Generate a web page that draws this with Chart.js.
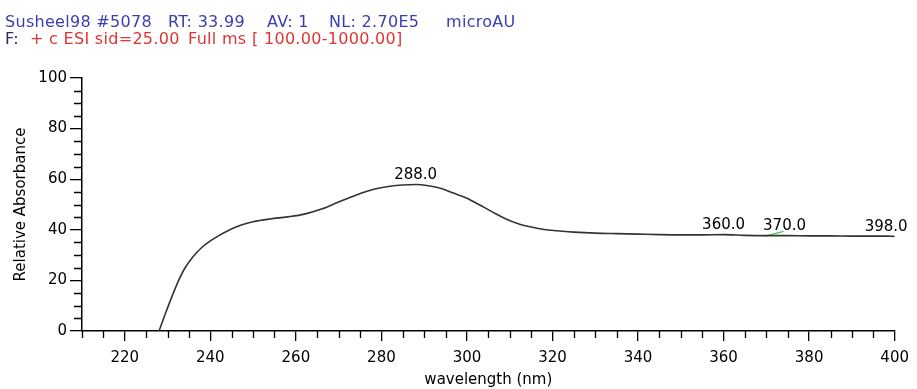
<!DOCTYPE html>
<html>
<head>
    <title>Relative Absorbance</title>
    <style>
        body, html {
            margin: 0;
            padding: 0;
            background: #fff;
        }
        #wrap {
            position: relative;
            width: 917px;
            height: 389px;
        }
        .hdr {
            position: absolute;
            font-family: "DejaVu Sans", sans-serif;
            font-size: 16px;
            line-height: 17px;
            letter-spacing: 0.3px;
            white-space: pre;
        }
        .l1 { top: 13px; color: #3c3cb4; }
        .l2 { top: 30px; color: #e03434; }
        .navy { color: #2a2a66; }
    </style>
</head>
<body>
<div id="wrap">
    <div class="hdr l1" style="left:5px;">Susheel98 #5078</div>
    <div class="hdr l1" style="left:168px;">RT: 33.99</div>
    <div class="hdr l1" style="left:267px;">AV: 1</div>
    <div class="hdr l1" style="left:329px;">NL: 2.70E5</div>
    <div class="hdr l1" style="left:446px;">microAU</div>
    <div class="hdr l2 navy" style="left:5px;">F:</div>
    <div class="hdr l2" style="left:30px;">+ c ESI sid=25.00</div>
    <div class="hdr l2" style="left:188px;">Full ms</div>
    <div class="hdr l2" style="left:252px;">[ 100.00-1000.00]</div>
    <canvas id="chart"></canvas>
</div>

<script src="https://cdn.jsdelivr.net/npm/chart.js"></script>
<script>
    // spectrum
    let wavelengths = [228, 229.5, 231, 232.5, 234, 236, 238, 240, 242, 244, 246, 248, 250, 254, 258, 262, 266, 270, 274, 278, 282, 285, 288, 291, 294, 297, 300, 303, 306, 309, 312, 315, 318, 321, 325, 330, 335, 340, 345, 350, 355, 360, 365, 370, 375, 380, 385, 390, 395, 398, 400];
    let absorbance = [0, 6.9, 13.5, 19.6, 24.7, 29.4, 33, 35.6, 37.7, 39.5, 41.1, 42.3, 43.2, 44.3, 45.1, 46.2, 48.2, 51, 53.7, 55.9, 57.2, 57.7, 57.9, 57.4, 56.3, 54.4, 52.5, 49.8, 47, 44.4, 42.4, 41.1, 40.1, 39.6, 39.1, 38.7, 38.5, 38.3, 38.1, 38, 38, 38.1, 37.8, 37.7, 37.7, 37.6, 37.6, 37.5, 37.5, 37.5, 37.4];

    // short second trace near 370 nm
    let traceB_x = [369.5, 374];
    let traceB_y = [37.4, 39.4];

    let peakLabels = [288.0, 360.0, 370.0, 398.0];

    let xTicks = [220, 240, 260, 280, 300, 320, 340, 360, 380, 400];
    let yTicks = [0, 20, 40, 60, 80, 100];

    const FONT = "'DejaVu Sans', sans-serif";

    function valueAt(nm) {
        let best = 0;
        for (let i = 1; i < wavelengths.length; i++) {
            if (Math.abs(wavelengths[i] - nm) < Math.abs(wavelengths[best] - nm)) best = i;
        }
        return absorbance[best];
    }

    // short minor ticks every 5 units on both axes
    const minorTicks = {
        id: 'minorTicks',
        afterDraw(chart) {
            const ctx = chart.ctx;
            const xs = chart.scales.x, ys = chart.scales.y;
            ctx.save();
            ctx.strokeStyle = '#000';
            ctx.lineWidth = 1.3;
            ctx.beginPath();
            for (let v = xs.min; v <= xs.max; v += 5) {
                if (xTicks.includes(v)) continue;
                const px = Math.round(xs.getPixelForValue(v)) + 0.5;
                ctx.moveTo(px, ys.bottom);
                ctx.lineTo(px, ys.bottom + 7);
            }
            for (let v = ys.min; v <= ys.max; v += 5) {
                if (yTicks.includes(v)) continue;
                const py = Math.round(ys.getPixelForValue(v)) + 0.5;
                ctx.moveTo(xs.left, py);
                ctx.lineTo(xs.left - 8, py);
            }
            ctx.stroke();
            ctx.restore();
        }
    };

    // value labels over the marked peaks
    const peakText = {
        id: 'peakText',
        afterDatasetsDraw(chart) {
            const ctx = chart.ctx;
            const xs = chart.scales.x, ys = chart.scales.y;
            ctx.save();
            ctx.font = '15px ' + FONT;
            ctx.fillStyle = '#000';
            ctx.textBaseline = 'bottom';
            let lastRight = -Infinity;
            peakLabels.forEach(p => {
                const txt = p.toFixed(1);
                const w = ctx.measureText(txt).width;
                let left = xs.getPixelForValue(p) - w / 2;
                if (left < lastRight + 18) left = lastRight + 18;
                ctx.fillText(txt, left, ys.getPixelForValue(valueAt(p)) - 2);
                lastRight = left + w;
            });
            ctx.restore();
        }
    };

    new Chart(document.getElementById('chart'), {
        type: 'line',
        data: {
            datasets: [{
                data: wavelengths.map((w, i) => ({x: w, y: absorbance[i]})),
                borderColor: '#333',
                borderWidth: 1.6,
                pointRadius: 0,
                cubicInterpolationMode: 'monotone'
            }, {
                data: traceB_x.map((w, i) => ({x: w, y: traceB_y[i]})),
                borderColor: '#4cc04c',
                borderWidth: 1.2,
                pointRadius: 0
            }]
        },
        options: {
            responsive: true,
            maintainAspectRatio: false,
            animation: false,
            layout: {
                padding: {top: 78, left: 8, right: 18, bottom: 0}
            },
            plugins: {
                legend: {display: false},
                tooltip: {enabled: false}
            },
            scales: {
                x: {
                    type: 'linear',
                    min: 210,
                    max: 400,
                    afterFit: s => { s.height = 58; },
                    border: {color: '#000', width: 1.5},
                    grid: {drawOnChartArea: false, color: '#000', lineWidth: 1.3, tickLength: 10},
                    ticks: {
                        stepSize: 20,
                        includeBounds: false,
                        padding: 8,
                        color: '#000',
                        maxRotation: 0,
                        font: {family: FONT, size: 15}
                    },
                    title: {
                        display: true,
                        text: 'wavelength (nm)',
                        color: '#000',
                        padding: 0,
                        font: {family: FONT, size: 15}
                    }
                },
                y: {
                    min: 0,
                    max: 100,
                    afterFit: s => { s.width = 74; },
                    border: {color: '#000', width: 1.5},
                    grid: {drawOnChartArea: false, color: '#000', lineWidth: 1.3, tickLength: 12},
                    ticks: {
                        stepSize: 20,
                        padding: 3,
                        color: '#000',
                        font: {family: FONT, size: 15}
                    },
                    title: {
                        display: true,
                        text: 'Relative Absorbance',
                        color: '#000',
                        padding: {top: 4, bottom: 0},
                        font: {family: FONT, size: 15}
                    }
                }
            }
        },
        plugins: [minorTicks, peakText]
    });
</script>
</body>
</html>
